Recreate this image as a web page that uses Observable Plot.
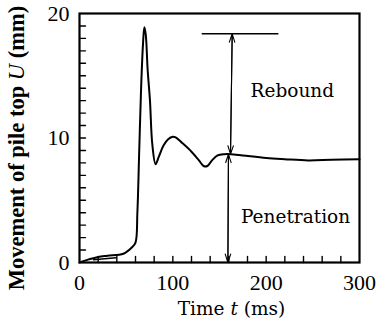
<!DOCTYPE html>
<html>
<head>
<meta charset="utf-8">
<script src="https://cdn.jsdelivr.net/npm/d3@7"></script>
<script src="https://cdn.jsdelivr.net/npm/@observablehq/plot@0.6"></script>
<style>
  html, body { margin: 0; padding: 0; background: #fff; }
  #chart svg { display: block; }
</style>
</head>
<body>
<div id="chart"></div>
<script>
// Pile-top movement record after a hammer blow
const timeMs = [0, 10, 20, 30, 47, 56, 60, 62, 64, 66, 68, 69.5, 71, 73, 75.5, 78, 81.5, 85, 90, 95, 100, 103, 110, 120, 128, 133, 137, 142, 148, 155, 162, 175, 200, 220, 245, 270, 300];
const movementMm = [0, 0.25, 0.45, 0.55, 0.7, 1.2, 1.6, 4, 9, 14, 17.5, 18.9, 18.3, 15.5, 13, 9.5, 7.9, 8.5, 9.4, 9.9, 10.1, 10.05, 9.6, 8.9, 8.2, 7.75, 7.75, 8.2, 8.6, 8.7, 8.7, 8.6, 8.4, 8.3, 8.2, 8.25, 8.3];

// short secondary trace near the start of the record
const traceTimeMs = [15, 39];
const traceMm = [0.22, 0.38];

// rebound / penetration annotation
const peakLevel = 18.37;
const peakLineT = [131.5, 213.6];
const finalLevel = 8.7;
const reboundArrowT = [161.8, 163.6];   // at final level, at peak level
const penetrationArrowT = [159, 159.6];  // at zero, at final level
const annotationLabels = ["Rebound", "Penetration"];
const annotationT = [228, 231.5];
const annotationU = [13.8, 3.65];

// axis ticks and titles
const xTickLabels = [0, 100, 200, 300];
const yTickLabels = [0, 10, 20];
const xMinorTicks = d3.range(20, 300, 20);
const yMinorTicks = d3.range(1, 20, 1);
const xTitle = ["Time ", "t", " (ms)"];
const yTitle = ["Movement of pile top ", "U", " (mm)"];

const curve = timeMs.map((t, i) => ({t, u: movementMm[i]}));
const trace = traceTimeMs.map((t, i) => ({t, u: traceMm[i]}));
const labels = annotationLabels.map((text, i) => ({text, t: annotationT[i], u: annotationU[i]}));
const arrows = [
  {x1: reboundArrowT[0], y1: finalLevel, x2: reboundArrowT[1], y2: peakLevel},
  {x1: reboundArrowT[1], y1: peakLevel, x2: reboundArrowT[0], y2: finalLevel},
  {x1: penetrationArrowT[1], y1: finalLevel, x2: penetrationArrowT[0], y2: 0},
  {x1: penetrationArrowT[0], y1: 0, x2: penetrationArrowT[1], y2: finalLevel}
];

const serif = "'Liberation Serif', 'Times New Roman', serif";
const wideSerif = "'DejaVu Serif', serif";

// a plain stroke from the anchor point, used for inward ticks
const tickShape = {draw(context, l) { context.moveTo(0, 0); context.lineTo(0, -l); }};

const chart = Plot.plot({
  width: 378,
  height: 322,
  marginLeft: 79,
  marginRight: 19,
  marginTop: 13,
  marginBottom: 60,
  style: {fontFamily: serif, fontSize: "22px", color: "#000", background: "#fff"},
  x: {domain: [0, 300]},
  y: {domain: [0, 20]},
  marks: [
    // tick labels
    Plot.axisX({ticks: xTickLabels, tickSize: 0, tickPadding: 12, label: null, fontSize: 22, fontFamily: serif}),
    Plot.axisY({ticks: yTickLabels, tickSize: 0, tickPadding: 10, label: null, fontSize: 22, fontFamily: serif}),
    Plot.frame({stroke: "#000", strokeWidth: 2.2}),
    // inward minor ticks
    Plot.vector(xMinorTicks, {x: d => d, y: 0, length: 6, rotate: 0, anchor: "start", shape: tickShape, stroke: "#000", strokeWidth: 1.4}),
    Plot.vector(yMinorTicks, {x: 0, y: d => d, length: 6, rotate: 90, anchor: "start", shape: tickShape, stroke: "#000", strokeWidth: 1.4}),
    // record
    Plot.line(curve, {x: "t", y: "u", stroke: "#000", strokeWidth: 2, curve: "catmull-rom"}),
    Plot.line(trace, {x: "t", y: "u", stroke: "#000", strokeWidth: 1.4}),
    // annotation
    Plot.ruleY([peakLevel], {x1: peakLineT[0], x2: peakLineT[1], stroke: "#000", strokeWidth: 1.6}),
    Plot.arrow(arrows, {x1: "x1", y1: "y1", x2: "x2", y2: "y2", stroke: "#000", strokeWidth: 1.1, headAngle: 36, headLength: 12}),
    Plot.text(labels, {x: "t", y: "u", text: "text", fontFamily: wideSerif, fontSize: 18.5, fill: "#000"}),
    // axis titles
    Plot.text([xTitle.join("")], {frameAnchor: "bottom", dy: 52, dx: 12, fontFamily: wideSerif, fontSize: 18.5, fill: "#000", className: "x-title"}),
    Plot.text([yTitle.join("")], {frameAnchor: "left", textAnchor: "middle", rotate: -90, dx: -63, dy: 10, fontFamily: serif, fontWeight: "bold", fontSize: 22.5, fill: "#000", className: "y-title"})
  ]
});

// italicise the symbol in each axis title
function styleTitle(selector, parts) {
  const node = d3.select(chart).select(`${selector} text`);
  node.text(null);
  parts.forEach((p, i) => {
    const span = node.append("tspan").text(p);
    if (i === 1) span.attr("font-style", "italic").attr("font-weight", "normal");
  });
}
styleTitle(".x-title", xTitle);
styleTitle(".y-title", yTitle);

document.getElementById("chart").appendChild(chart);
</script>
</body>
</html>
